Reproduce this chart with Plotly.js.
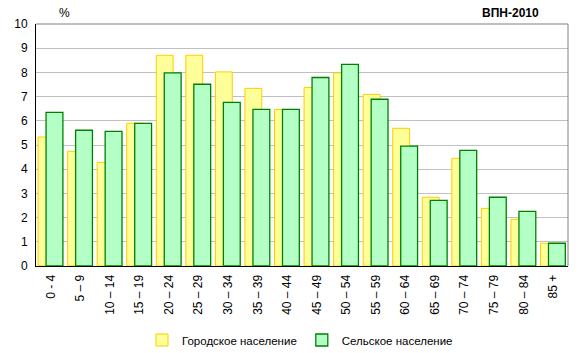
<!DOCTYPE html>
<html><head><meta charset="utf-8">
<script src="https://cdn.plot.ly/plotly-3.0.1.min.js"></script>
<style>body{margin:0;background:#fff}#c{width:581px;height:353px}</style>
</head><body><div id="c"></div>
<script>
var categories = ["0 - 4","5 – 9","10 – 14","15 – 19","20 – 24","25 – 29","30 – 34","35 – 39","40 – 44","45 – 49","50 – 54","55 – 59","60 – 64","65 – 69","70 – 74","75 – 79","80 – 84","85 +"];
var urban = [5.33,4.74,4.28,5.9,8.71,8.71,8.02,7.34,6.47,7.38,7.98,7.09,5.69,2.84,4.45,2.38,1.93,0.94];
var rural = [6.35,5.61,5.56,5.89,7.98,7.51,6.76,6.47,6.47,7.79,8.33,6.89,4.95,2.71,4.78,2.84,2.26,0.94];
var names = ["Городское население","Сельское население"];
var font = "Liberation Sans, Arial, sans-serif";
var traces = [
 {type:"bar", x:categories, y:urban, name:names[0], width:0.57, offset:-0.43,
  marker:{color:"#ffff99", line:{color:"#ffcc00", width:1}}},
 {type:"bar", x:categories, y:rural, name:names[1], width:0.57, offset:-0.16,
  marker:{color:"#b3ffc6", line:{color:"#008000", width:1.3}}}
];
var layout = {
 width:581, height:353, margin:{l:36, r:13, t:24, b:87},
 paper_bgcolor:"#fff", plot_bgcolor:"#fff",
 barmode:"overlay", showlegend:true,
 font:{family:font, size:12, color:"#000"},
 legend:{orientation:"h", xref:"container", yref:"container", x:300/581, xanchor:"center",
   y:(353-340)/353, yanchor:"middle", font:{family:font, size:11.5},
   itemwidth:30, traceorder:"normal"},
 xaxis:{type:"category", tickangle:-90, showline:true, linecolor:"#000", linewidth:1,
   ticks:"", showgrid:false, tickfont:{family:font, size:12}, range:[-0.5,17.5],
   automargin:false, ticklabelstandoff:3, fixedrange:true},
 yaxis:{range:[0,10], dtick:1, showline:true, linecolor:"#000", linewidth:1,
   gridcolor:"#c0c0c0", gridwidth:1, ticks:"", tickfont:{family:font, size:12},
   zeroline:false, automargin:false, ticklabelstandoff:5, fixedrange:true},
 shapes:[
  {type:"line", xref:"paper", yref:"paper", x0:0, x1:1, y0:1, y1:1, line:{color:"#808080", width:1}},
  {type:"line", xref:"paper", yref:"paper", x0:1, x1:1, y0:0, y1:1, line:{color:"#808080", width:1}}
 ],
 annotations:[
  {text:"%", xref:"paper", yref:"paper", x:(64-36)/532, y:1+(24-13.5)/242, xanchor:"center", yanchor:"middle",
   showarrow:false, font:{family:font, size:12, color:"#000"}},
  {text:"<b>ВПН-2010</b>", xref:"paper", yref:"paper", x:(510-36)/532, y:1+(24-13.5)/242, xanchor:"center", yanchor:"middle",
   showarrow:false, font:{family:font, size:12, color:"#000"}}
 ]
};
Plotly.newPlot("c", traces, layout, {displayModeBar:false, staticPlot:true});
</script></body></html>
